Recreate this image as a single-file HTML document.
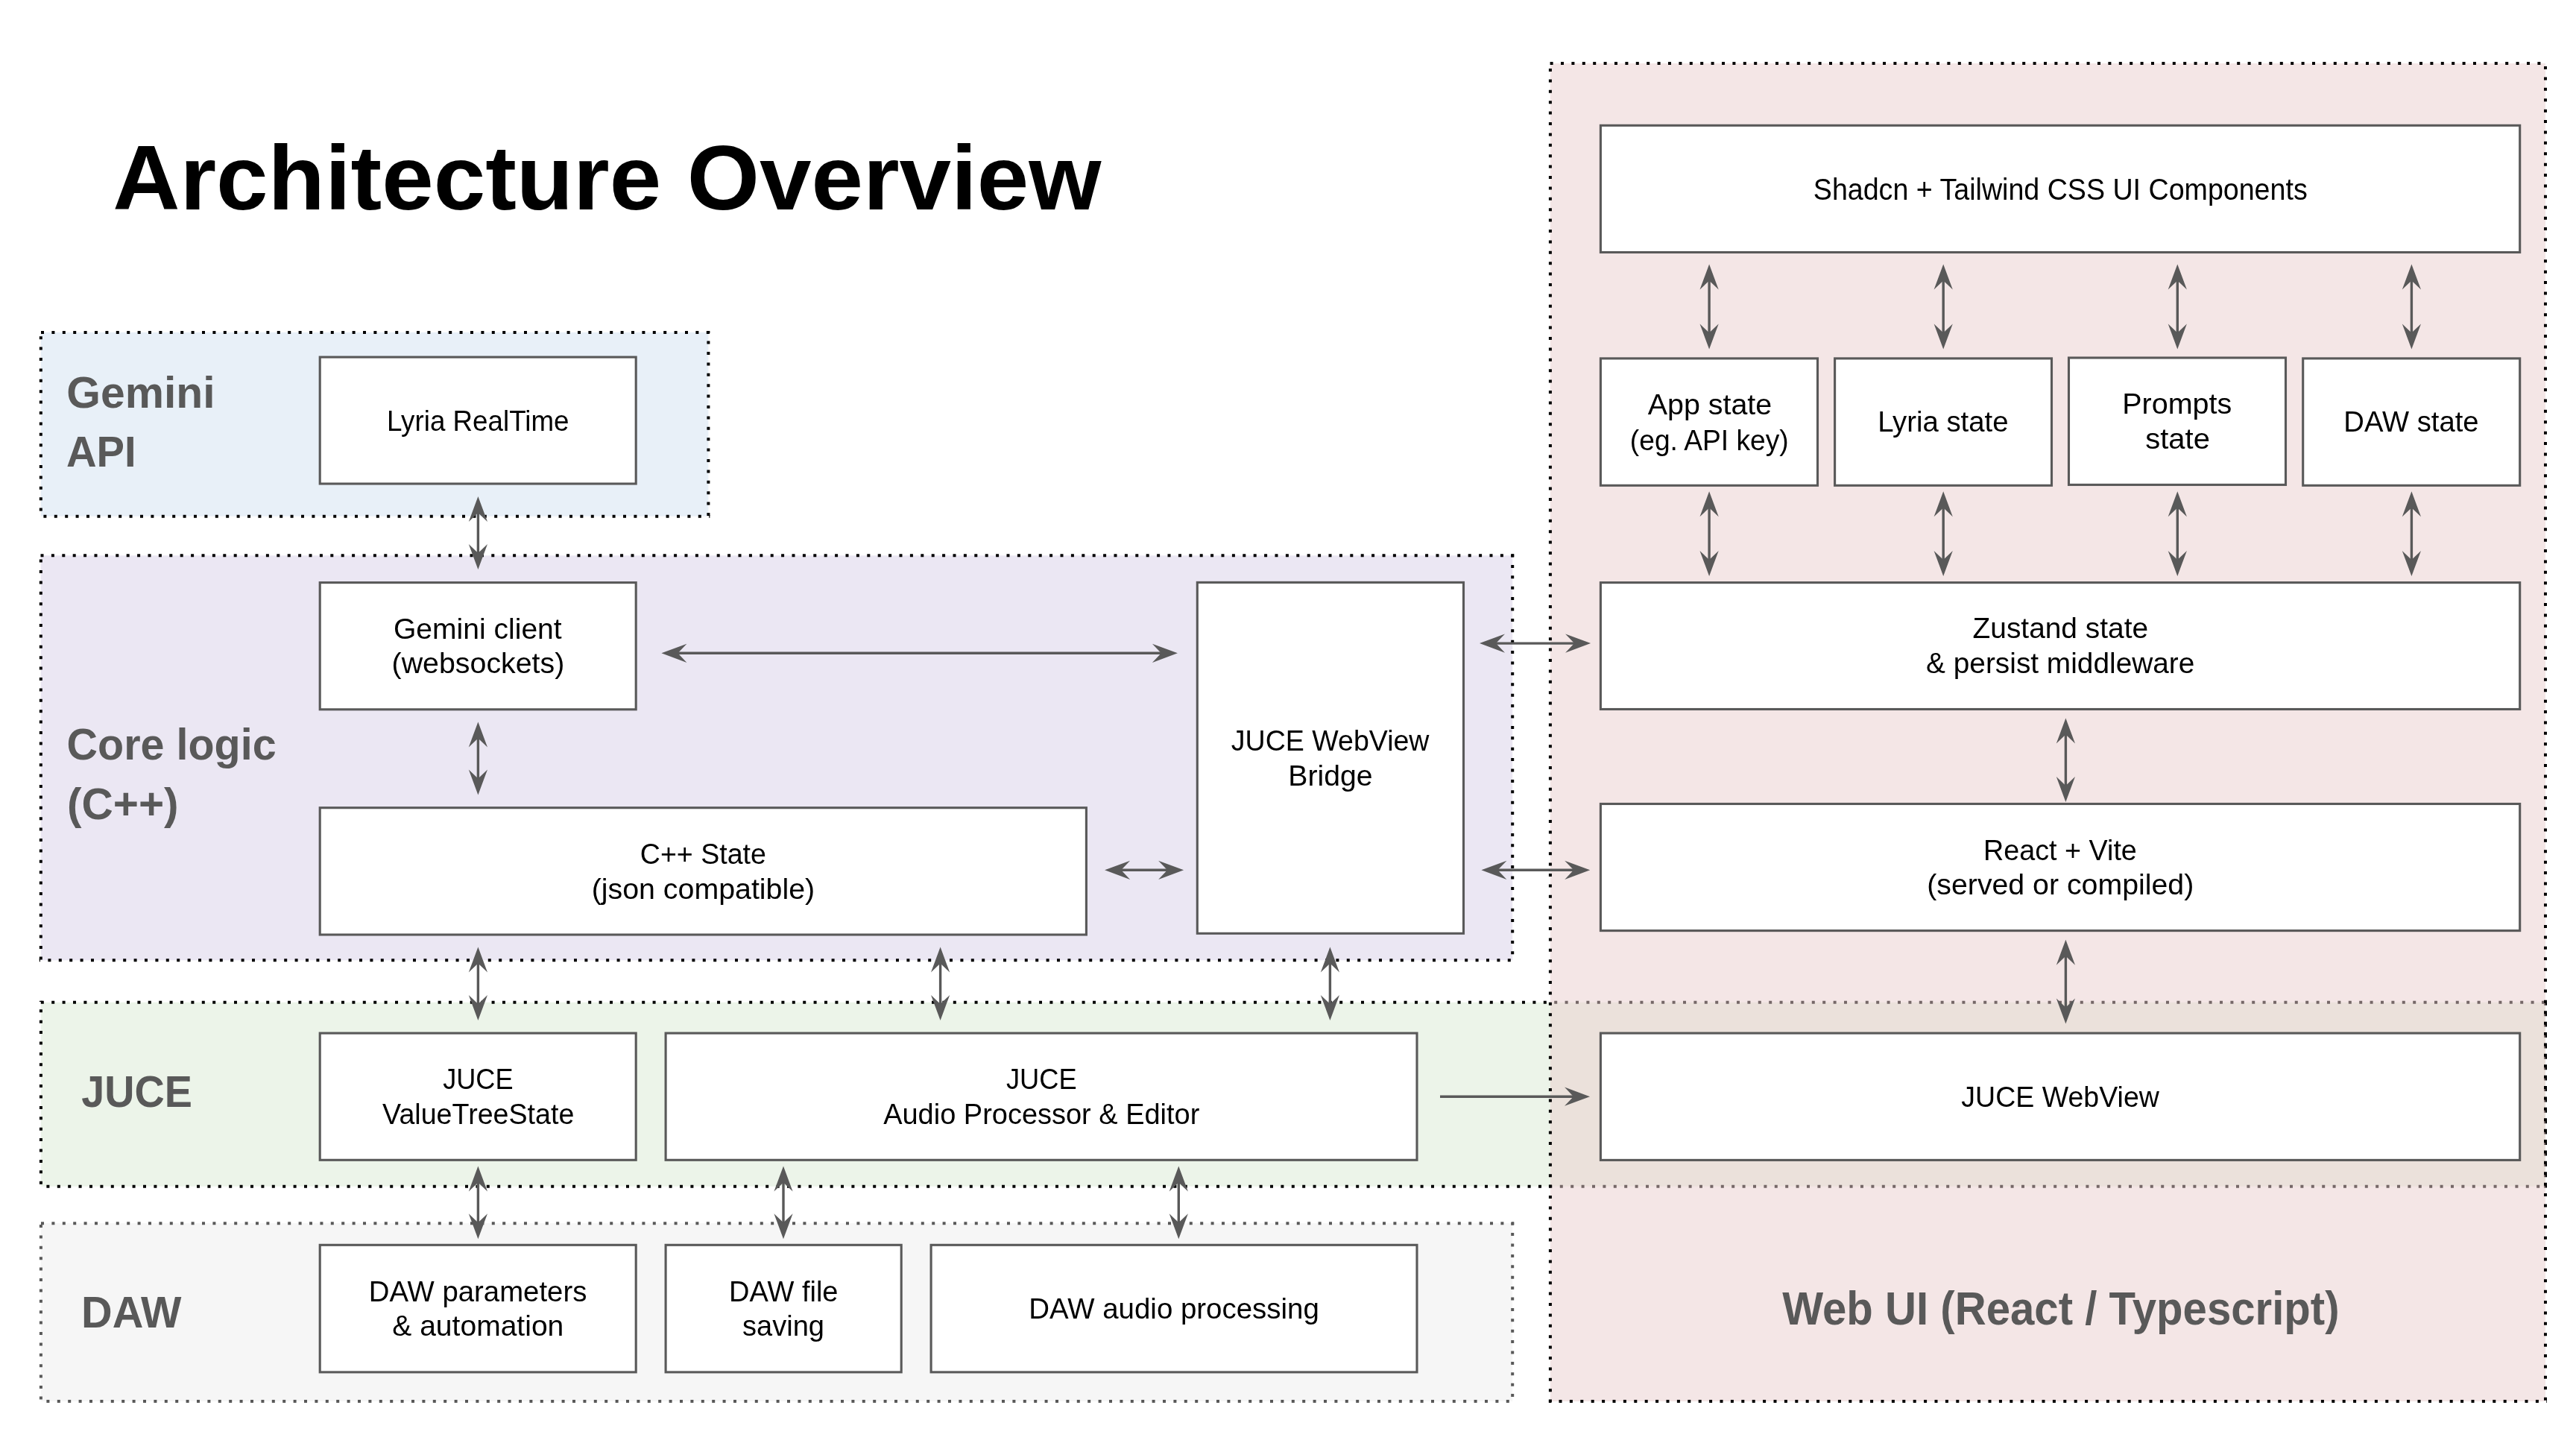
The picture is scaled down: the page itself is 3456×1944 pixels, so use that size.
<!DOCTYPE html><html><head><meta charset="utf-8"><style>html,body{margin:0;padding:0;background:#fff;width:3456px;height:1944px;overflow:hidden}svg{display:block;will-change:transform}</style></head><body>
<svg width="3456" height="1944" viewBox="0 0 3456 1944">
<rect x="0" y="0" width="3456" height="1944" fill="#ffffff"/>
<rect x="54.80" y="445.90" width="895.60" height="246.80" fill="#e8f0f8" fill-opacity="1.00"/>
<line x1="52.80" y1="445.90" x2="952.40" y2="445.90" stroke="#000" stroke-width="4" stroke-dasharray="4.0 10.4" stroke-dashoffset="12.20"/>
<line x1="950.40" y1="443.90" x2="950.40" y2="694.70" stroke="#000" stroke-width="4" stroke-dasharray="4.0 10.4" stroke-dashoffset="0.70"/>
<line x1="52.80" y1="692.70" x2="952.40" y2="692.70" stroke="#000" stroke-width="4" stroke-dasharray="4.0 10.4" stroke-dashoffset="8.80"/>
<line x1="54.80" y1="443.90" x2="54.80" y2="694.70" stroke="#000" stroke-width="4" stroke-dasharray="4.0 10.4" stroke-dashoffset="7.10"/>
<rect x="54.80" y="745.30" width="1974.40" height="543.00" fill="#ebe7f3" fill-opacity="1.00"/>
<line x1="52.80" y1="745.30" x2="2031.20" y2="745.30" stroke="#000" stroke-width="4" stroke-dasharray="4.0 10.4" stroke-dashoffset="12.70"/>
<line x1="2029.20" y1="743.30" x2="2029.20" y2="1290.30" stroke="#000" stroke-width="4" stroke-dasharray="4.0 10.4" stroke-dashoffset="14.20"/>
<line x1="52.80" y1="1288.30" x2="2031.20" y2="1288.30" stroke="#000" stroke-width="4" stroke-dasharray="4.0 10.4" stroke-dashoffset="2.80"/>
<line x1="54.80" y1="743.30" x2="54.80" y2="1290.30" stroke="#000" stroke-width="4" stroke-dasharray="4.0 10.4" stroke-dashoffset="7.10"/>
<rect x="54.90" y="1344.80" width="3360.10" height="246.90" fill="#ecf4e9" fill-opacity="1.00"/>
<line x1="52.90" y1="1344.80" x2="3417.00" y2="1344.80" stroke="#000" stroke-width="4" stroke-dasharray="4.0 10.4" stroke-dashoffset="12.50"/>
<line x1="3415.00" y1="1342.80" x2="3415.00" y2="1593.70" stroke="#000" stroke-width="4" stroke-dasharray="4.0 10.4" stroke-dashoffset="12.40"/>
<line x1="52.90" y1="1591.70" x2="3417.00" y2="1591.70" stroke="#000" stroke-width="4" stroke-dasharray="4.0 10.4" stroke-dashoffset="4.90"/>
<line x1="54.90" y1="1342.80" x2="54.90" y2="1593.70" stroke="#000" stroke-width="4" stroke-dasharray="4.0 10.4" stroke-dashoffset="2.90"/>
<rect x="54.90" y="1641.20" width="1974.30" height="238.90" fill="#f6f6f6" fill-opacity="1.00"/>
<line x1="52.90" y1="1641.20" x2="2031.20" y2="1641.20" stroke="#595959" stroke-width="4" stroke-dasharray="4.0 10.4" stroke-dashoffset="12.30"/>
<line x1="2029.20" y1="1639.20" x2="2029.20" y2="1882.10" stroke="#595959" stroke-width="4" stroke-dasharray="4.0 10.4" stroke-dashoffset="13.90"/>
<line x1="52.90" y1="1880.10" x2="2031.20" y2="1880.10" stroke="#595959" stroke-width="4" stroke-dasharray="4.0 10.4" stroke-dashoffset="4.90"/>
<line x1="54.90" y1="1639.20" x2="54.90" y2="1882.10" stroke="#595959" stroke-width="4" stroke-dasharray="4.0 10.4" stroke-dashoffset="10.60"/>
<rect x="2079.90" y="85.05" width="1335.10" height="1795.05" fill="#e9cdcd" fill-opacity="0.50"/>
<line x1="2077.90" y1="85.05" x2="3417.00" y2="85.05" stroke="#000" stroke-width="4" stroke-dasharray="4.0 10.4" stroke-dashoffset="12.70"/>
<line x1="3415.00" y1="83.05" x2="3415.00" y2="1882.10" stroke="#000" stroke-width="4" stroke-dasharray="4.0 10.4" stroke-dashoffset="8.39"/>
<line x1="2077.90" y1="1880.10" x2="3417.00" y2="1880.10" stroke="#000" stroke-width="4" stroke-dasharray="4.0 10.4" stroke-dashoffset="0.80"/>
<line x1="2079.90" y1="83.05" x2="2079.90" y2="1882.10" stroke="#000" stroke-width="4" stroke-dasharray="4.0 10.4" stroke-dashoffset="5.45"/>
<rect x="429.2" y="479.1" width="424.0" height="169.9" fill="#ffffff" stroke="#595959" stroke-width="3.1"/>
<rect x="429.2" y="781.6" width="424.0" height="170.2" fill="#ffffff" stroke="#595959" stroke-width="3.1"/>
<rect x="429.2" y="1083.7" width="1028.2" height="170.3" fill="#ffffff" stroke="#595959" stroke-width="3.1"/>
<rect x="1606.3" y="781.4" width="357.2" height="470.9" fill="#ffffff" stroke="#595959" stroke-width="3.1"/>
<rect x="429.2" y="1386.1" width="424.0" height="170.2" fill="#ffffff" stroke="#595959" stroke-width="3.1"/>
<rect x="893.1" y="1386.1" width="1007.9" height="170.2" fill="#ffffff" stroke="#595959" stroke-width="3.1"/>
<rect x="429.2" y="1670.3" width="424.0" height="170.6" fill="#ffffff" stroke="#595959" stroke-width="3.1"/>
<rect x="893.1" y="1670.3" width="316.1" height="170.6" fill="#ffffff" stroke="#595959" stroke-width="3.1"/>
<rect x="1249.1" y="1670.3" width="651.9" height="170.6" fill="#ffffff" stroke="#595959" stroke-width="3.1"/>
<rect x="2147.4" y="168.3" width="1233.3" height="170.2" fill="#ffffff" stroke="#595959" stroke-width="3.1"/>
<rect x="2147.4" y="480.9" width="291.1" height="170.4" fill="#ffffff" stroke="#595959" stroke-width="3.1"/>
<rect x="2461.6" y="480.9" width="290.9" height="170.4" fill="#ffffff" stroke="#595959" stroke-width="3.1"/>
<rect x="2775.5" y="480.0" width="291.0" height="170.4" fill="#ffffff" stroke="#595959" stroke-width="3.1"/>
<rect x="3089.7" y="480.9" width="291.0" height="170.4" fill="#ffffff" stroke="#595959" stroke-width="3.1"/>
<rect x="2147.4" y="781.6" width="1233.3" height="169.9" fill="#ffffff" stroke="#595959" stroke-width="3.1"/>
<rect x="2147.4" y="1078.5" width="1233.3" height="170.1" fill="#ffffff" stroke="#595959" stroke-width="3.1"/>
<rect x="2147.4" y="1386.1" width="1233.3" height="170.3" fill="#ffffff" stroke="#595959" stroke-width="3.1"/>
<line x1="641.40" y1="687.10" x2="641.40" y2="743.00" stroke="#595959" stroke-width="3.40"/>
<path d="M641.40 666.10L654.00 700.10L641.40 688.10L628.80 700.10Z" fill="#595959"/>
<path d="M641.40 764.00L628.80 730.00L641.40 742.00L654.00 730.00Z" fill="#595959"/>
<line x1="641.40" y1="989.40" x2="641.40" y2="1045.60" stroke="#595959" stroke-width="3.40"/>
<path d="M641.40 968.40L654.00 1002.40L641.40 990.40L628.80 1002.40Z" fill="#595959"/>
<path d="M641.40 1066.60L628.80 1032.60L641.40 1044.60L654.00 1032.60Z" fill="#595959"/>
<line x1="641.40" y1="1291.60" x2="641.40" y2="1347.90" stroke="#595959" stroke-width="3.40"/>
<path d="M641.40 1270.60L654.00 1304.60L641.40 1292.60L628.80 1304.60Z" fill="#595959"/>
<path d="M641.40 1368.90L628.80 1334.90L641.40 1346.90L654.00 1334.90Z" fill="#595959"/>
<line x1="1261.60" y1="1291.60" x2="1261.60" y2="1347.90" stroke="#595959" stroke-width="3.40"/>
<path d="M1261.60 1270.60L1274.20 1304.60L1261.60 1292.60L1249.00 1304.60Z" fill="#595959"/>
<path d="M1261.60 1368.90L1249.00 1334.90L1261.60 1346.90L1274.20 1334.90Z" fill="#595959"/>
<line x1="1784.40" y1="1291.60" x2="1784.40" y2="1347.90" stroke="#595959" stroke-width="3.40"/>
<path d="M1784.40 1270.60L1797.00 1304.60L1784.40 1292.60L1771.80 1304.60Z" fill="#595959"/>
<path d="M1784.40 1368.90L1771.80 1334.90L1784.40 1346.90L1797.00 1334.90Z" fill="#595959"/>
<line x1="641.40" y1="1585.40" x2="641.40" y2="1641.20" stroke="#595959" stroke-width="3.40"/>
<path d="M641.40 1564.40L654.00 1598.40L641.40 1586.40L628.80 1598.40Z" fill="#595959"/>
<path d="M641.40 1662.20L628.80 1628.20L641.40 1640.20L654.00 1628.20Z" fill="#595959"/>
<line x1="1051.00" y1="1585.40" x2="1051.00" y2="1641.20" stroke="#595959" stroke-width="3.40"/>
<path d="M1051.00 1564.40L1063.60 1598.40L1051.00 1586.40L1038.40 1598.40Z" fill="#595959"/>
<path d="M1051.00 1662.20L1038.40 1628.20L1051.00 1640.20L1063.60 1628.20Z" fill="#595959"/>
<line x1="1581.30" y1="1585.40" x2="1581.30" y2="1641.20" stroke="#595959" stroke-width="3.40"/>
<path d="M1581.30 1564.40L1593.90 1598.40L1581.30 1586.40L1568.70 1598.40Z" fill="#595959"/>
<path d="M1581.30 1662.20L1568.70 1628.20L1581.30 1640.20L1593.90 1628.20Z" fill="#595959"/>
<line x1="2293.10" y1="375.60" x2="2293.10" y2="447.60" stroke="#595959" stroke-width="3.40"/>
<path d="M2293.10 354.60L2305.70 388.60L2293.10 376.60L2280.50 388.60Z" fill="#595959"/>
<path d="M2293.10 468.60L2280.50 434.60L2293.10 446.60L2305.70 434.60Z" fill="#595959"/>
<line x1="2607.20" y1="375.60" x2="2607.20" y2="447.60" stroke="#595959" stroke-width="3.40"/>
<path d="M2607.20 354.60L2619.80 388.60L2607.20 376.60L2594.60 388.60Z" fill="#595959"/>
<path d="M2607.20 468.60L2594.60 434.60L2607.20 446.60L2619.80 434.60Z" fill="#595959"/>
<line x1="2921.30" y1="375.60" x2="2921.30" y2="447.60" stroke="#595959" stroke-width="3.40"/>
<path d="M2921.30 354.60L2933.90 388.60L2921.30 376.60L2908.70 388.60Z" fill="#595959"/>
<path d="M2921.30 468.60L2908.70 434.60L2921.30 446.60L2933.90 434.60Z" fill="#595959"/>
<line x1="3235.40" y1="375.60" x2="3235.40" y2="447.60" stroke="#595959" stroke-width="3.40"/>
<path d="M3235.40 354.60L3248.00 388.60L3235.40 376.60L3222.80 388.60Z" fill="#595959"/>
<path d="M3235.40 468.60L3222.80 434.60L3235.40 446.60L3248.00 434.60Z" fill="#595959"/>
<line x1="2293.10" y1="680.30" x2="2293.10" y2="751.90" stroke="#595959" stroke-width="3.40"/>
<path d="M2293.10 659.30L2305.70 693.30L2293.10 681.30L2280.50 693.30Z" fill="#595959"/>
<path d="M2293.10 772.90L2280.50 738.90L2293.10 750.90L2305.70 738.90Z" fill="#595959"/>
<line x1="2607.20" y1="680.30" x2="2607.20" y2="751.90" stroke="#595959" stroke-width="3.40"/>
<path d="M2607.20 659.30L2619.80 693.30L2607.20 681.30L2594.60 693.30Z" fill="#595959"/>
<path d="M2607.20 772.90L2594.60 738.90L2607.20 750.90L2619.80 738.90Z" fill="#595959"/>
<line x1="2921.30" y1="680.30" x2="2921.30" y2="751.90" stroke="#595959" stroke-width="3.40"/>
<path d="M2921.30 659.30L2933.90 693.30L2921.30 681.30L2908.70 693.30Z" fill="#595959"/>
<path d="M2921.30 772.90L2908.70 738.90L2921.30 750.90L2933.90 738.90Z" fill="#595959"/>
<line x1="3235.40" y1="680.30" x2="3235.40" y2="751.90" stroke="#595959" stroke-width="3.40"/>
<path d="M3235.40 659.30L3248.00 693.30L3235.40 681.30L3222.80 693.30Z" fill="#595959"/>
<path d="M3235.40 772.90L3222.80 738.90L3235.40 750.90L3248.00 738.90Z" fill="#595959"/>
<line x1="2771.40" y1="984.50" x2="2771.40" y2="1054.90" stroke="#595959" stroke-width="3.40"/>
<path d="M2771.40 963.50L2784.00 997.50L2771.40 985.50L2758.80 997.50Z" fill="#595959"/>
<path d="M2771.40 1075.90L2758.80 1041.90L2771.40 1053.90L2784.00 1041.90Z" fill="#595959"/>
<line x1="2771.40" y1="1281.70" x2="2771.40" y2="1352.40" stroke="#595959" stroke-width="3.40"/>
<path d="M2771.40 1260.70L2784.00 1294.70L2771.40 1282.70L2758.80 1294.70Z" fill="#595959"/>
<path d="M2771.40 1373.40L2758.80 1339.40L2771.40 1351.40L2784.00 1339.40Z" fill="#595959"/>
<line x1="908.40" y1="876.30" x2="1558.90" y2="876.30" stroke="#595959" stroke-width="3.40"/>
<path d="M887.40 876.30L921.40 863.70L909.40 876.30L921.40 888.90Z" fill="#595959"/>
<path d="M1579.90 876.30L1545.90 888.90L1557.90 876.30L1545.90 863.70Z" fill="#595959"/>
<line x1="2006.00" y1="863.10" x2="2113.10" y2="863.10" stroke="#595959" stroke-width="3.40"/>
<path d="M1985.00 863.10L2019.00 850.50L2007.00 863.10L2019.00 875.70Z" fill="#595959"/>
<path d="M2134.10 863.10L2100.10 875.70L2112.10 863.10L2100.10 850.50Z" fill="#595959"/>
<line x1="1503.10" y1="1167.30" x2="1567.10" y2="1167.30" stroke="#595959" stroke-width="3.40"/>
<path d="M1482.10 1167.30L1516.10 1154.70L1504.10 1167.30L1516.10 1179.90Z" fill="#595959"/>
<path d="M1588.10 1167.30L1554.10 1179.90L1566.10 1167.30L1554.10 1154.70Z" fill="#595959"/>
<line x1="2008.40" y1="1167.30" x2="2112.20" y2="1167.30" stroke="#595959" stroke-width="3.40"/>
<path d="M1987.40 1167.30L2021.40 1154.70L2009.40 1167.30L2021.40 1179.90Z" fill="#595959"/>
<path d="M2133.20 1167.30L2099.20 1179.90L2111.20 1167.30L2099.20 1154.70Z" fill="#595959"/>
<line x1="1932.00" y1="1471.20" x2="2112.00" y2="1471.20" stroke="#595959" stroke-width="3.40"/>
<path d="M2133.00 1471.20L2099.00 1483.80L2111.00 1471.20L2099.00 1458.60Z" fill="#595959"/>
<text x="151.25" y="281.00" font-family="Liberation Sans" font-size="122.59" font-weight="bold" fill="#000000" textLength="1326.22" lengthAdjust="spacingAndGlyphs">Architecture Overview</text>
<text x="89.35" y="547.10" font-family="Liberation Sans" font-size="59.95" font-weight="bold" fill="#595959" textLength="199.14" lengthAdjust="spacingAndGlyphs">Gemini</text>
<text x="88.91" y="625.90" font-family="Liberation Sans" font-size="57.96" font-weight="bold" fill="#595959" textLength="93.65" lengthAdjust="spacingAndGlyphs">API</text>
<text x="89.60" y="1018.90" font-family="Liberation Sans" font-size="59.24" font-weight="bold" fill="#595959" textLength="281.00" lengthAdjust="spacingAndGlyphs">Core logic</text>
<text x="90.08" y="1099.40" font-family="Liberation Sans" font-size="59.80" font-weight="bold" fill="#595959" textLength="149.53" lengthAdjust="spacingAndGlyphs">(C++)</text>
<text x="109.29" y="1485.00" font-family="Liberation Sans" font-size="58.67" font-weight="bold" fill="#595959" textLength="148.71" lengthAdjust="spacingAndGlyphs">JUCE</text>
<text x="109.07" y="1781.20" font-family="Liberation Sans" font-size="59.38" font-weight="bold" fill="#595959" textLength="134.41" lengthAdjust="spacingAndGlyphs">DAW</text>
<text x="2391.20" y="1777.20" font-family="Liberation Sans" font-size="62.07" font-weight="bold" fill="#595959" textLength="747.39" lengthAdjust="spacingAndGlyphs">Web UI (React / Typescript)</text>
<text x="519.06" y="577.80" font-family="Liberation Sans" font-size="38.97" font-weight="normal" fill="#000000" textLength="244.41" lengthAdjust="spacingAndGlyphs">Lyria RealTime</text>
<text x="527.95" y="857.00" font-family="Liberation Sans" font-size="38.83" font-weight="normal" fill="#000000" textLength="225.74" lengthAdjust="spacingAndGlyphs">Gemini client</text>
<text x="525.64" y="902.90" font-family="Liberation Sans" font-size="38.83" font-weight="normal" fill="#000000" textLength="231.64" lengthAdjust="spacingAndGlyphs">(websockets)</text>
<text x="858.82" y="1158.90" font-family="Liberation Sans" font-size="39.40" font-weight="normal" fill="#000000" textLength="168.99" lengthAdjust="spacingAndGlyphs">C++ State</text>
<text x="793.64" y="1205.80" font-family="Liberation Sans" font-size="39.40" font-weight="normal" fill="#000000" textLength="299.59" lengthAdjust="spacingAndGlyphs">(json compatible)</text>
<text x="1651.85" y="1006.90" font-family="Liberation Sans" font-size="39.11" font-weight="normal" fill="#000000" textLength="265.63" lengthAdjust="spacingAndGlyphs">JUCE WebView</text>
<text x="1728.26" y="1053.60" font-family="Liberation Sans" font-size="39.11" font-weight="normal" fill="#000000" textLength="113.33" lengthAdjust="spacingAndGlyphs">Bridge</text>
<text x="594.18" y="1460.90" font-family="Liberation Sans" font-size="39.26" font-weight="normal" fill="#000000" textLength="94.42" lengthAdjust="spacingAndGlyphs">JUCE</text>
<text x="513.12" y="1507.80" font-family="Liberation Sans" font-size="39.26" font-weight="normal" fill="#000000" textLength="257.26" lengthAdjust="spacingAndGlyphs">ValueTreeState</text>
<text x="1349.97" y="1461.40" font-family="Liberation Sans" font-size="39.68" font-weight="normal" fill="#000000" textLength="94.73" lengthAdjust="spacingAndGlyphs">JUCE</text>
<text x="1185.20" y="1508.00" font-family="Liberation Sans" font-size="39.68" font-weight="normal" fill="#000000" textLength="424.15" lengthAdjust="spacingAndGlyphs">Audio Processor &amp; Editor</text>
<text x="494.73" y="1746.00" font-family="Liberation Sans" font-size="39.11" font-weight="normal" fill="#000000" textLength="292.67" lengthAdjust="spacingAndGlyphs">DAW parameters</text>
<text x="526.24" y="1791.90" font-family="Liberation Sans" font-size="39.11" font-weight="normal" fill="#000000" textLength="230.11" lengthAdjust="spacingAndGlyphs">&amp; automation</text>
<text x="978.06" y="1745.80" font-family="Liberation Sans" font-size="38.69" font-weight="normal" fill="#000000" textLength="146.45" lengthAdjust="spacingAndGlyphs">DAW file</text>
<text x="996.06" y="1791.90" font-family="Liberation Sans" font-size="38.69" font-weight="normal" fill="#000000" textLength="109.95" lengthAdjust="spacingAndGlyphs">saving</text>
<text x="1380.33" y="1768.90" font-family="Liberation Sans" font-size="38.97" font-weight="normal" fill="#000000" textLength="389.45" lengthAdjust="spacingAndGlyphs">DAW audio processing</text>
<text x="2432.82" y="267.70" font-family="Liberation Sans" font-size="40.25" font-weight="normal" fill="#000000" textLength="662.88" lengthAdjust="spacingAndGlyphs">Shadcn + Tailwind CSS UI Components</text>
<text x="2210.70" y="556.30" font-family="Liberation Sans" font-size="39.40" font-weight="normal" fill="#000000" textLength="166.48" lengthAdjust="spacingAndGlyphs">App state</text>
<text x="2186.87" y="603.50" font-family="Liberation Sans" font-size="39.40" font-weight="normal" fill="#000000" textLength="212.73" lengthAdjust="spacingAndGlyphs">(eg. API key)</text>
<text x="2519.13" y="579.10" font-family="Liberation Sans" font-size="39.40" font-weight="normal" fill="#000000" textLength="175.44" lengthAdjust="spacingAndGlyphs">Lyria state</text>
<text x="2847.24" y="555.10" font-family="Liberation Sans" font-size="38.69" font-weight="normal" fill="#000000" textLength="147.07" lengthAdjust="spacingAndGlyphs">Prompts</text>
<text x="2878.30" y="602.00" font-family="Liberation Sans" font-size="38.69" font-weight="normal" fill="#000000" textLength="86.62" lengthAdjust="spacingAndGlyphs">state</text>
<text x="3144.34" y="579.30" font-family="Liberation Sans" font-size="39.26" font-weight="normal" fill="#000000" textLength="181.25" lengthAdjust="spacingAndGlyphs">DAW state</text>
<text x="2646.53" y="856.10" font-family="Liberation Sans" font-size="38.97" font-weight="normal" fill="#000000" textLength="235.58" lengthAdjust="spacingAndGlyphs">Zustand state</text>
<text x="2584.05" y="903.20" font-family="Liberation Sans" font-size="38.97" font-weight="normal" fill="#000000" textLength="360.35" lengthAdjust="spacingAndGlyphs">&amp; persist middleware</text>
<text x="2660.98" y="1154.30" font-family="Liberation Sans" font-size="39.68" font-weight="normal" fill="#000000" textLength="205.89" lengthAdjust="spacingAndGlyphs">React + Vite</text>
<text x="2585.24" y="1199.80" font-family="Liberation Sans" font-size="39.68" font-weight="normal" fill="#000000" textLength="357.99" lengthAdjust="spacingAndGlyphs">(served or compiled)</text>
<text x="2631.35" y="1485.00" font-family="Liberation Sans" font-size="39.11" font-weight="normal" fill="#000000" textLength="265.53" lengthAdjust="spacingAndGlyphs">JUCE WebView</text>
</svg></body></html>
